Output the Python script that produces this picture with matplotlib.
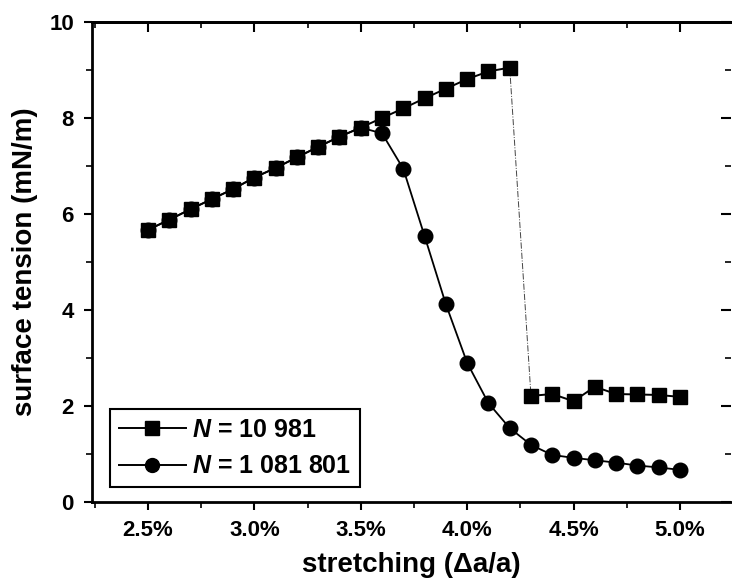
import matplotlib
matplotlib.use("Agg")
import matplotlib.pyplot as plt
from matplotlib.ticker import MultipleLocator, FuncFormatter

plt.rcParams["font.family"] = ["Liberation Sans", "DejaVu Sans"]
plt.rcParams["font.weight"] = "bold"
plt.rcParams["mathtext.fontset"] = "custom"
plt.rcParams["mathtext.rm"] = "Liberation Sans:bold"
plt.rcParams["mathtext.it"] = "Liberation Sans:bold:italic"

# stretching in percent
x_small = [2.5, 2.6, 2.7, 2.8, 2.9, 3.0, 3.1, 3.2, 3.3, 3.4, 3.5, 3.6, 3.7,
           3.8, 3.9, 4.0, 4.1, 4.2, 4.3, 4.4, 4.5, 4.6, 4.7, 4.8, 4.9, 5.0]
y_small = [5.67, 5.88, 6.10, 6.31, 6.52, 6.76, 6.96, 7.18, 7.40, 7.61, 7.80,
           8.00, 8.20, 8.41, 8.61, 8.81, 8.97, 9.05,
           2.21, 2.25, 2.10, 2.40, 2.25, 2.24, 2.23, 2.19]
x_large = x_small
y_large = [5.67, 5.88, 6.10, 6.31, 6.52, 6.76, 6.96, 7.18, 7.40, 7.61, 7.80,
           7.68, 6.94, 5.54, 4.12, 2.90, 2.06, 1.54, 1.19, 0.98, 0.92, 0.87,
           0.82, 0.76, 0.72, 0.67]
jump = 18  # index where the small system breaks

fig = plt.figure(figsize=(7.32, 5.85), dpi=100)
ax = fig.add_axes([92 / 732, 1 - 502 / 585, (731 - 92) / 732, 480 / 585])

ax.plot(x_large, y_large, color="black", lw=1.3, marker="o", ms=10.5, zorder=3)
ax.plot(x_small[:jump], y_small[:jump], color="black", lw=1.4, marker="s",
        ms=10, zorder=4)
ax.plot(x_small[jump:], y_small[jump:], color="black", lw=1.4, marker="s",
        ms=10, zorder=4)
ax.plot(x_small[jump - 1:jump + 1], y_small[jump - 1:jump + 1], color="#444444",
        lw=0.7, ls="-.", zorder=2)

# legend handles in the original order
h_sq, = ax.plot([], [], color="black", lw=1.4, marker="s", ms=10)
h_ci, = ax.plot([], [], color="black", lw=1.4, marker="o", ms=10)
leg = ax.legend([h_sq, h_ci], ["$N$ = 10 981", "$N$ = 1 081 801"],
                loc="lower left", bbox_to_anchor=(0.028, 0.031), borderaxespad=0,
                prop={"size": 18, "weight": "bold"}, handlelength=2.7,
                handletextpad=0.25, labelspacing=0.5, borderpad=0.35,
                fancybox=False, framealpha=1, edgecolor="black")
leg.get_frame().set_linewidth(1.5)

ax.set_xlim(2.237, 5.24)
ax.set_ylim(0, 10)
ax.xaxis.set_major_locator(MultipleLocator(0.5))
ax.xaxis.set_minor_locator(MultipleLocator(0.25))
ax.yaxis.set_major_locator(MultipleLocator(2))
ax.yaxis.set_minor_locator(MultipleLocator(1))
ax.xaxis.set_major_formatter(FuncFormatter(lambda v, p: f"{v:.1f}%"))
ax.tick_params(which="major", direction="out", length=6, width=1.5,
               labelsize=16, pad=7)
ax.tick_params(which="minor", direction="out", length=4, width=1.2)

for s in ["left", "bottom", "top"]:
    ax.spines[s].set_linewidth(2)
ax.spines["right"].set_visible(False)

# mirrored ticks pointing inward on top and right
top = ax.secondary_xaxis("top")
top.xaxis.set_major_locator(MultipleLocator(0.5))
top.xaxis.set_minor_locator(MultipleLocator(0.25))
top.tick_params(which="major", direction="in", length=7, width=1.5, labeltop=False)
top.tick_params(which="minor", direction="in", length=4, width=1.2)
top.spines["top"].set_linewidth(2)
right = ax.secondary_yaxis("right")
right.yaxis.set_major_locator(MultipleLocator(2))
right.yaxis.set_minor_locator(MultipleLocator(1))
right.tick_params(which="major", direction="in", length=7, width=1.5, labelright=False)
right.tick_params(which="minor", direction="in", length=4, width=1.2)
right.spines["right"].set_visible(False)

ax.set_xlabel("stretching (\u0394a/a)", fontsize=20, fontweight="bold", labelpad=8)
ax.set_ylabel("surface tension (mN/m)", fontsize=20, fontweight="bold", labelpad=8)

fig.savefig("out.png", dpi=100)
